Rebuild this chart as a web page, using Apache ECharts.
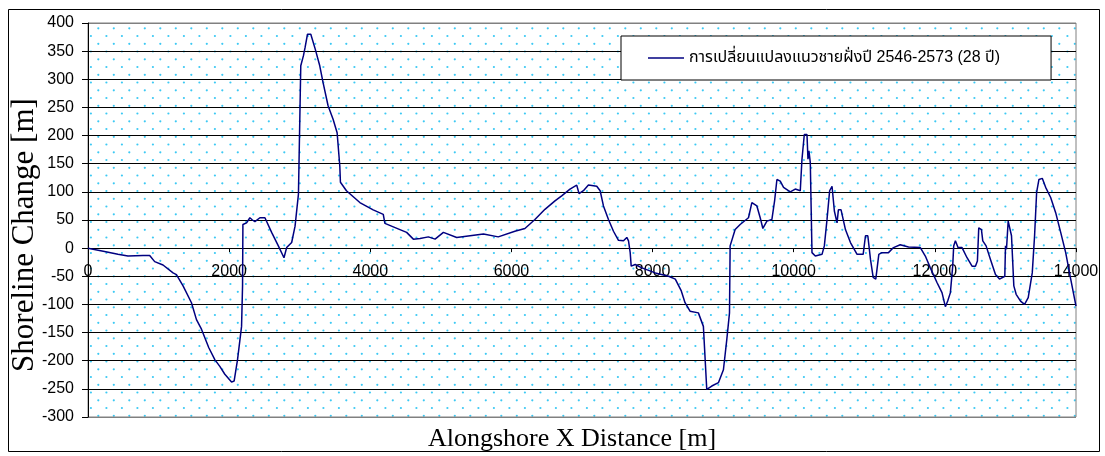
<!DOCTYPE html>
<html>
<head>
<meta charset="utf-8">
<title>Shoreline Change</title>
<script src="https://cdn.jsdelivr.net/npm/echarts@6/dist/echarts.min.js"></script>
<style>
  html, body { margin: 0; padding: 0; background: #ffffff; }
  #chart { width: 1105px; height: 456px; }
</style>
</head>
<body>
<div id="chart"></div>
<script>
// Alongshore distance along the coast [m]
const distance = [
  0, 234, 424, 566, 779, 874, 945, 1063, 1205, 1253, 1347, 1466, 1537, 1608, 1712, 1797, 1868, 1939,
  2034, 2071, 2119, 2176, 2190, 2195, 2247, 2294, 2330, 2365, 2436, 2507, 2602, 2697, 2777, 2801,
  2815, 2886, 2934, 2982, 3006, 3015, 3053, 3077, 3110, 3157, 3219, 3284, 3331, 3402, 3473, 3530,
  3568, 3577, 3662, 3852, 4041, 4184, 4207, 4420, 4515, 4610, 4705, 4823, 4918, 5036, 5225, 5414,
  5604, 5813, 6049, 6191, 6333, 6475, 6617, 6712, 6830, 6925, 6958, 7020, 7091, 7209, 7257, 7304,
  7375, 7446, 7517, 7588, 7635, 7659, 7683, 7697, 7754, 7849, 8038, 8228, 8322, 8407, 8460, 8531,
  8649, 8720, 8768, 8839, 8933, 9004, 9052, 9090, 9099, 9123, 9170, 9241, 9359, 9407, 9478, 9525,
  9563, 9620, 9691, 9729, 9762, 9809, 9856, 9951, 10022, 10093, 10117, 10150, 10188, 10202, 10216,
  10235, 10259, 10306, 10401, 10434, 10472, 10509, 10543, 10576, 10614, 10633, 10671, 10733, 10804,
  10898, 10984, 11017, 11050, 11088, 11126, 11163, 11206, 11248, 11343, 11414, 11509, 11627, 11794,
  11865, 11936, 12030, 12101, 12149, 12182, 12220, 12253, 12267, 12291, 12314, 12328, 12385, 12456,
  12527, 12575, 12603, 12622, 12660, 12679, 12726, 12788, 12859, 12916, 12991, 13001, 13015, 13039,
  13058, 13086, 13119, 13152, 13214, 13271, 13323, 13380, 13413, 13442, 13475, 13522, 13570, 13641,
  13712, 13783, 13854, 13925, 14000
];

// Shoreline change over 28 years (2546-2573) [m]
const change = [
  0, -6, -11, -14, -13, -13, -24, -30, -44, -47, -67, -97, -127, -144, -177, -198, -210, -224,
  -238, -236, -198, -139, -67, 42, 45, 54, 50, 47, 54, 54, 28, 4, -17, -19,
  1, 10, 39, 96, 99, 324, 342, 357, 380, 380, 354, 324, 294, 253, 229, 205,
  146, 117, 102, 81, 68, 60, 44, 33, 28, 16, 17, 20, 16, 28, 19, 22,
  25, 20, 30, 35, 51, 69, 84, 93, 105, 112, 97, 102, 112, 110, 102, 75,
  51, 30, 14, 13, 19, 13, -8, -32, -29, -35, -44, -50, -55, -76, -97, -112,
  -115, -139, -251, -245, -239, -216, -162, -115, 4, 1, 33, 42, 54, 81, 75, 54,
  35, 48, 51, 84, 122, 119, 108, 100, 105, 102, 158, 202, 202, 158, 173,
  152, -8, -14, -11, 4, 51, 102, 110, 66, 45, 68, 68, 33, 10,
  -11, -11, 22, 22, -20, -52, -55, -11, -8, -8, 1, 6, 2, 1,
  -14, -35, -61, -79, -104, -94, -79, -32, 4, 13, 13, 1, 1, -17,
  -32, -32, -23, 36, 33, 13, 4, -20, -47, -55, -50, 4, -2, 48,
  45, 22, -67, -82, -94, -100, -88, -44, 22, 99, 122, 124, 108, 90,
  63, 28, -8, -55, -103
];

const seriesName = 'การเปลี่ยนแปลงแนวชายฝั่งปี 2546-2573 (28 ปี)';
const xAxisTitle = 'Alongshore X Distance [m]';
const yAxisTitle = 'Shoreline Change [m]';

// Axis ranges and steps
const xRange = [0, 14000];
const xStep = 2000;
const yRange = [-300, 400];
const yStep = 50;

// Plot rectangle
const plotLeft = 88, plotTop = 23, plotWidth = 988, plotHeight = 394;
// Distance from the plot bottom up to the zero line, so the x axis sits on y = 0
const zeroLift = plotHeight * (0 - yRange[0]) / (yRange[1] - yRange[0]);

// Staggered cyan dot fill for the plot area
function dotPattern() {
  const c = document.createElement('canvas');
  c.width = 31; c.height = 31;
  const g = c.getContext('2d');
  g.fillStyle = '#ffffff';
  g.fillRect(0, 0, 31, 31);
  g.fillStyle = '#3cc9f4';
  const pts = [
    [5.3, 12.8], [20.8, 12.8], [5.3, 28.3], [20.8, 28.3],
    [13.4, 5.0], [28.9, 5.0], [13.4, 20.5], [28.9, 20.5]
  ];
  pts.forEach(function (p) {
    g.beginPath();
    g.arc(p[0], p[1], 1.1, 0, Math.PI * 2);
    g.fill();
  });
  return c;
}

// Split line colours: outer frame lines grey, inner lines black
const nLines = Math.round((yRange[1] - yRange[0]) / yStep) + 1;
const splitColors = [];
for (let i = 0; i < nLines; i++) {
  splitColors.push(i === 0 || i === nLines - 1 ? '#808080' : '#000000');
}

const points = distance.map(function (d, i) { return [d, change[i]]; });
const plain = function (v) { return String(v); };

const chart = echarts.init(document.getElementById('chart'), null, { renderer: 'canvas' });

chart.setOption({
  animation: false,
  backgroundColor: '#ffffff',
  textStyle: { fontFamily: "'Liberation Sans', Arial, sans-serif" },
  grid: {
    left: plotLeft,
    top: plotTop,
    width: plotWidth,
    height: plotHeight,
    containLabel: false,
    outerBoundsMode: 'none',
    show: true,
    backgroundColor: { image: dotPattern(), repeat: 'repeat' },
    borderColor: '#808080',
    borderWidth: 1
  },
  legend: {
    left: 621,
    top: 36,
    padding: [14, 51, 14, 27],
    icon: 'rect',
    itemWidth: 36,
    itemHeight: 1.5,
    backgroundColor: '#ffffff',
    borderColor: '#000000',
    borderWidth: 1,
    borderRadius: 0,
    textStyle: {
      fontSize: 16,
      color: '#000000',
      fontFamily: "'Liberation Sans', 'Noto Sans Thai', 'Noto Sans', sans-serif"
    },
    itemStyle: { color: '#000080' },
    data: [seriesName]
  },
  graphic: [
    {
      // outer chart frame
      type: 'rect',
      shape: { x: 8.5, y: 9.5, width: 1091, height: 442 },
      style: { fill: 'none', stroke: '#000000', lineWidth: 1 },
      silent: true,
      z: 100
    },
    {
      // vertical axis title
      type: 'text',
      x: 25,
      y: 235,
      rotation: Math.PI / 2,
      style: {
        text: yAxisTitle,
        fill: '#000000',
        font: "31px 'Liberation Serif', 'Times New Roman', serif",
        align: 'center',
        verticalAlign: 'middle'
      },
      silent: true
    }
  ],
  xAxis: {
    type: 'value',
    min: xRange[0],
    max: xRange[1],
    interval: xStep,
    position: 'bottom',
    offset: -zeroLift,
    name: xAxisTitle,
    nameLocation: 'middle',
    nameGap: 178,
    nameTextStyle: {
      fontFamily: "'Liberation Serif', 'Times New Roman', serif",
      fontSize: 26,
      color: '#000000',
      padding: [0, 20, 0, 0]
    },
    axisLine: { onZero: false, lineStyle: { color: '#000000', width: 1 } },
    axisTick: { show: true, inside: false, length: 4, lineStyle: { color: '#000000' } },
    axisLabel: { fontSize: 16, color: '#000000', margin: 15, formatter: plain },
    splitLine: { show: false }
  },
  yAxis: {
    type: 'value',
    min: yRange[0],
    max: yRange[1],
    interval: yStep,
    axisLine: { show: true, onZero: false, lineStyle: { color: '#000000', width: 1 } },
    axisTick: { show: true, inside: false, length: 6, lineStyle: { color: '#000000' } },
    axisLabel: { fontSize: 16, color: '#000000', margin: 14, formatter: plain },
    splitLine: { show: true, lineStyle: { color: splitColors, width: 1 } }
  },
  series: [{
    name: seriesName,
    type: 'line',
    data: points,
    showSymbol: false,
    symbol: 'none',
    lineStyle: { color: '#000080', width: 1.5 },
    itemStyle: { color: '#000080' },
    z: 5
  }]
});
</script>
</body>
</html>
